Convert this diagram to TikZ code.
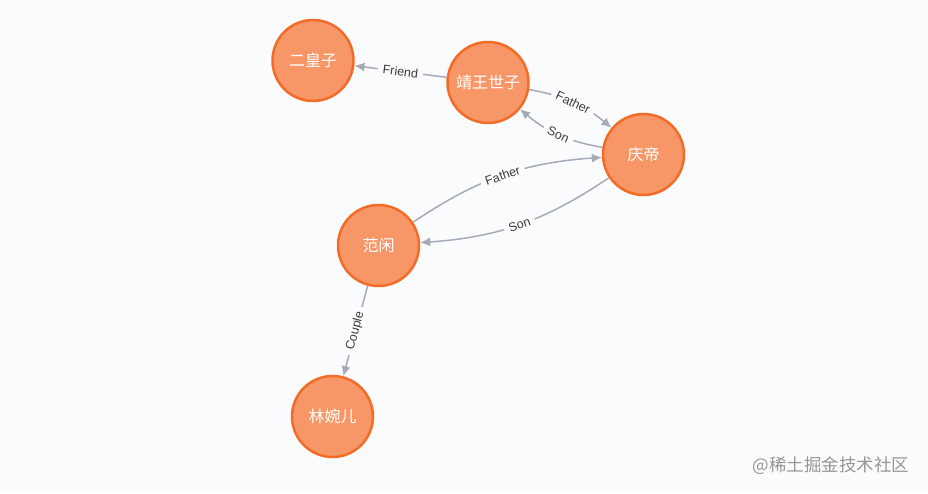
\documentclass[tikz,border=0pt]{standalone}
\usepackage{fontspec}
\setmainfont{Liberation Sans}
\newfontfamily\cjk{Noto Sans CJK SC}
\definecolor{NeoFill}{RGB}{247,151,103}
\definecolor{NeoRing}{RGB}{242,108,40}
\definecolor{NeoEdge}{RGB}{165,171,182}
\definecolor{NeoPaper}{RGB}{249,251,253}
\definecolor{NeoText}{RGB}{60,60,60}
\definecolor{NeoMark}{RGB}{150,150,150}
\usetikzlibrary{
    arrows.meta,
}

\begin{document}
\begin{tikzpicture}[x=1pt, y=1pt,
        person/.style={circle, fill=NeoFill, draw=NeoRing, line width=2.5pt, minimum size=81pt, inner sep=0pt, text=white, font=\cjk\fontsize{16}{19}\selectfont},
        rel/.style={draw=NeoEdge, line width=1.5pt, -{Latex[length=10pt,width=9pt]}},
        tag/.style={fill=NeoPaper, sloped, inner xsep=5pt, inner ysep=1pt, text=NeoText, font=\fontsize{12.5}{14}\selectfont}]
        \fill[NeoPaper] (0,0) rectangle (928,493);
        \useasboundingbox (0,0) rectangle (928,493);
        \node[person] (erhuang) at (313,432.5) {二皇子};
        \node[person] (jingwang) at (488,410.5) {靖王世子};
        \node[person] (qingdi) at (643.5,338.5) {庆帝};
        \node[person] (fanxian) at (378.5,247.5) {范闲};
        \node[person] (linwaner) at (332.5,76.5) {林婉儿};
        \draw[rel] (jingwang) -- node[tag] {Friend} (erhuang);
        \draw[rel] (jingwang) to[bend left=15] node[tag] {Father} (qingdi);
        \draw[rel] (qingdi) to[bend left=15] node[tag] {Son} (jingwang);
        \draw[rel] (fanxian) to[bend left=15] node[tag] {Father} (qingdi);
        \draw[rel] (qingdi) to[bend left=15] node[tag] {Son} (fanxian);
        \draw[rel] (fanxian) -- node[tag] {Couple} (linwaner);
        \node[text=NeoMark, font=\cjk\fontsize{17.5}{20}\selectfont, anchor=east] (mark) at (913,27) {@稀土掘金技术社区};
    \end{tikzpicture}
\end{document}
